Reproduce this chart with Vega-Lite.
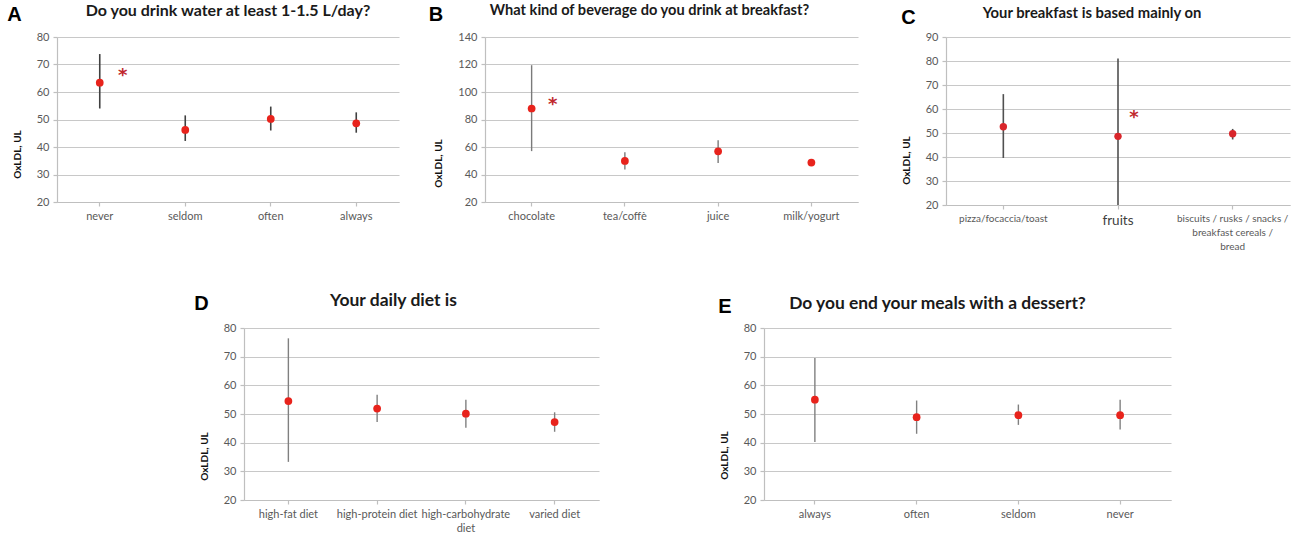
{
  "$schema": "https://vega.github.io/schema/vega-lite/v6.json",
  "padding": {"left": 7, "top": 3, "right": 5, "bottom": 5},
  "background": "white",
  "config": {
    "view": {"stroke": null},
    "font": "Lato",
    "title": {"font": "Lato", "fontWeight": "bold", "color": "#1a1a1a", "anchor": "middle"},
    "axis": {
      "labelFont": "Lato", "labelColor": "#595959", "labelFontSize": 11,
      "domainColor": "#bfbfbf", "domainWidth": 1.2, "tickColor": "#bfbfbf", "tickWidth": 1.2, "tickSize": 4,
      "gridColor": "#c8c8c8", "gridWidth": 1.2, "labelPadding": 4,
      "titleFont": "Lato", "titleFontSize": 10, "titleFontWeight": "bold", "titleColor": "#111111", "titlePadding": 14
    },
    "axisX": {"grid": false, "labelAngle": 0, "labelOverlap": false, "labelBaseline": "top", "labelLineHeight": 14},
    "axisY": {"grid": true}
  },
  "datasets": {
    "A": [
      {"cat": "never", "mean": 63.4, "lo": 54, "hi": 73.8, "star": 66.2},
      {"cat": "seldom", "mean": 46.2, "lo": 42.2, "hi": 51.5},
      {"cat": "often", "mean": 50.2, "lo": 46, "hi": 54.7},
      {"cat": "always", "mean": 48.6, "lo": 45.2, "hi": 52.6}
    ],
    "B": [
      {"cat": "chocolate", "mean": 88, "lo": 57, "hi": 119.5, "star": 91},
      {"cat": "tea/coffè", "mean": 49.9, "lo": 43.6, "hi": 56.2},
      {"cat": "juice", "mean": 56.9, "lo": 48.4, "hi": 64.9},
      {"cat": "milk/yogurt", "mean": 48.7, "lo": 48.2, "hi": 49.2}
    ],
    "C": [
      {"cat": "pizza/focaccia/toast", "mean": 52.6, "lo": 39.6, "hi": 66.2},
      {"cat": "fruits", "mean": 48.6, "lo": 20, "hi": 81, "star": 56.5},
      {"cat": "biscuits / rusks / snacks / breakfast cereals / bread", "mean": 49.7, "lo": 47.3, "hi": 51.7}
    ],
    "D": [
      {"cat": "high-fat diet", "mean": 54.5, "lo": 33.3, "hi": 76.4},
      {"cat": "high-protein diet", "mean": 51.9, "lo": 47.2, "hi": 56.7},
      {"cat": "high-carbohydrate diet", "mean": 50.1, "lo": 45.2, "hi": 55},
      {"cat": "varied diet", "mean": 47.2, "lo": 43.8, "hi": 50.6}
    ],
    "E": [
      {"cat": "always", "mean": 55, "lo": 40.2, "hi": 69.5},
      {"cat": "often", "mean": 48.9, "lo": 43.1, "hi": 54.7},
      {"cat": "seldom", "mean": 49.6, "lo": 46.2, "hi": 53.3},
      {"cat": "never", "mean": 49.6, "lo": 44.6, "hi": 55}
    ]
  },
  "spacing": 40,
  "vconcat": [
    {
      "spacing": 29,
      "hconcat": [
        {
          "title": {"text": "A", "font": "Liberation Sans", "fontSize": 20, "fontWeight": "bold", "color": "#000000", "anchor": "start", "frame": "bounds", "offset": 0, "dx": -5, "dy": 22},
          "hconcat": [
            {
              "width": 342, "height": 165,
              "title": {"text": "Do you drink water at least 1-1.5 L/day?", "fontSize": 16, "offset": 12},
              "data": {"name": "A"},
              "encoding": {
                "x": {"field": "cat", "type": "nominal", "sort": null, "scale": {"type": "band", "paddingInner": 0, "paddingOuter": 0}, "axis": {"title": null}},
                "y": {"field": "mean", "type": "quantitative", "scale": {"domain": [20, 80], "nice": false, "zero": false}, "axis": {"values": [20, 30, 40, 50, 60, 70, 80], "title": "OxLDL, UL", "titleY": 117}}
              },
              "layer": [
                {"mark": {"type": "rule", "color": "#404040", "strokeWidth": 1.6}, "encoding": {"y": {"field": "lo", "type": "quantitative"}, "y2": {"field": "hi"}}},
                {"mark": {"type": "circle", "color": "#e8231c", "size": 60, "opacity": 1}},
                {"transform": [{"filter": "isValid(datum.star)"}], "mark": {"type": "text", "text": "*", "font": "DejaVu Sans", "fontWeight": "bold", "fontSize": 18, "color": "#c0282d", "dx": 23, "dy": 1}, "encoding": {"y": {"field": "star", "type": "quantitative"}}}
              ]
            }
          ]
        },
        {
          "spacing": 43,
          "hconcat": [
            {
              "title": {"text": "B", "font": "Liberation Sans", "fontSize": 20, "fontWeight": "bold", "color": "#000000", "anchor": "start", "frame": "bounds", "offset": 0, "dx": -5, "dy": 22},
              "hconcat": [
                {
                  "width": 373, "height": 165,
                  "title": {"text": "What kind of beverage do you drink at breakfast?", "fontSize": 14.6, "offset": 13, "dx": -22},
                  "data": {"name": "B"},
                  "encoding": {
                    "x": {"field": "cat", "type": "nominal", "sort": null, "scale": {"type": "band", "paddingInner": 0, "paddingOuter": 0}, "axis": {"title": null}},
                    "y": {"field": "mean", "type": "quantitative", "scale": {"domain": [20, 140], "nice": false, "zero": false}, "axis": {"values": [20, 40, 60, 80, 100, 120, 140], "title": "OxLDL, UL", "titleY": 126}}
                  },
                  "layer": [
                    {"mark": {"type": "rule", "color": "#7a7a7a", "strokeWidth": 1.4}, "encoding": {"y": {"field": "lo", "type": "quantitative"}, "y2": {"field": "hi"}}},
                    {"mark": {"type": "circle", "color": "#e8231c", "size": 60, "opacity": 1}},
                    {"transform": [{"filter": "isValid(datum.star)"}], "mark": {"type": "text", "text": "*", "font": "DejaVu Sans", "fontWeight": "bold", "fontSize": 18, "color": "#c0282d", "dx": 21, "dy": 1}, "encoding": {"y": {"field": "star", "type": "quantitative"}}}
                  ]
                }
              ]
            },
            {
              "title": {"text": "C", "font": "Liberation Sans", "fontSize": 20, "fontWeight": "bold", "color": "#000000", "anchor": "start", "frame": "bounds", "offset": 0, "dx": 0, "dy": 22},
              "hconcat": [
                {
                  "width": 344, "height": 168,
                  "title": {"text": "Your breakfast is based mainly on", "fontSize": 14.8, "offset": 10, "dx": -26},
                  "data": {"name": "C"},
                  "encoding": {
                    "x": {"field": "cat", "type": "nominal", "sort": null, "scale": {"type": "band", "paddingInner": 0, "paddingOuter": 0},
                      "axis": {"title": null,
                        "labelFontSize": {"condition": {"test": "datum.value == 'fruits'", "value": 13.5}, "value": 10},
                        "labelColor": {"condition": {"test": "datum.value == 'fruits'", "value": "#404040"}, "value": "#595959"},
                        "labelExpr": "indexof(datum.value, 'biscuits') == 0 ? ['biscuits / rusks / snacks /', 'breakfast cereals /', 'bread'] : datum.label"}},
                    "y": {"field": "mean", "type": "quantitative", "scale": {"domain": [20, 90], "nice": false, "zero": false}, "axis": {"values": [20, 30, 40, 50, 60, 70, 80, 90], "title": "OxLDL, UL", "titleY": 123}}
                  },
                  "layer": [
                    {"mark": {"type": "rule", "color": "#505050", "strokeWidth": 1.6}, "encoding": {"y": {"field": "lo", "type": "quantitative"}, "y2": {"field": "hi"}}},
                    {"mark": {"type": "circle", "color": "#d9262b", "size": 55, "opacity": 1}},
                    {"transform": [{"filter": "isValid(datum.star)"}], "mark": {"type": "text", "text": "*", "font": "DejaVu Sans", "fontWeight": "bold", "fontSize": 18, "color": "#c0282d", "dx": 16, "dy": 1}, "encoding": {"y": {"field": "star", "type": "quantitative"}}}
                  ]
                }
              ]
            }
          ]
        }
      ]
    },
    {
      "spacing": 119,
      "hconcat": [
        {"width": 18, "height": 172, "data": {"values": [{"cat": "spacer"}]}, "mark": {"type": "point", "opacity": 0}, "encoding": {}},
        {
          "title": {"text": "D", "font": "Liberation Sans", "fontSize": 20, "fontWeight": "bold", "color": "#000000", "anchor": "start", "frame": "bounds", "offset": 0, "dx": -5, "dy": 22},
          "hconcat": [
            {
              "width": 355, "height": 172,
              "title": {"text": "Your daily diet is", "fontSize": 17.5, "offset": 13, "dx": -28},
              "data": {"name": "D"},
              "encoding": {
                "x": {"field": "cat", "type": "nominal", "sort": null, "scale": {"type": "band", "paddingInner": 0, "paddingOuter": 0},
                  "axis": {"title": null, "labelExpr": "datum.value == 'high-carbohydrate diet' ? ['high-carbohydrate', 'diet'] : datum.label"}},
                "y": {"field": "mean", "type": "quantitative", "scale": {"domain": [20, 80], "nice": false, "zero": false}, "axis": {"values": [20, 30, 40, 50, 60, 70, 80], "title": "OxLDL, UL", "titleY": 128}}
              },
              "layer": [
                {"mark": {"type": "rule", "color": "#808080", "strokeWidth": 1.4}, "encoding": {"y": {"field": "lo", "type": "quantitative"}, "y2": {"field": "hi"}}},
                {"mark": {"type": "circle", "color": "#e8231c", "size": 60, "opacity": 1}}
              ]
            }
          ]
        },
        {
          "title": {"text": "E", "font": "Liberation Sans", "fontSize": 20, "fontWeight": "bold", "color": "#000000", "anchor": "start", "frame": "bounds", "offset": 0, "dx": -1, "dy": 22},
          "hconcat": [
            {
              "width": 407, "height": 172,
              "title": {"text": "Do you end your meals with a dessert?", "fontSize": 17.4, "offset": 10, "dx": -30},
              "data": {"name": "E"},
              "encoding": {
                "x": {"field": "cat", "type": "nominal", "sort": null, "scale": {"type": "band", "paddingInner": 0, "paddingOuter": 0}, "axis": {"title": null}},
                "y": {"field": "mean", "type": "quantitative", "scale": {"domain": [20, 80], "nice": false, "zero": false}, "axis": {"values": [20, 30, 40, 50, 60, 70, 80], "title": "OxLDL, UL", "titleY": 127}}
              },
              "layer": [
                {"mark": {"type": "rule", "color": "#808080", "strokeWidth": 1.4}, "encoding": {"y": {"field": "lo", "type": "quantitative"}, "y2": {"field": "hi"}}},
                {"mark": {"type": "circle", "color": "#e8231c", "size": 60, "opacity": 1}}
              ]
            }
          ]
        }
      ]
    }
  ]
}
